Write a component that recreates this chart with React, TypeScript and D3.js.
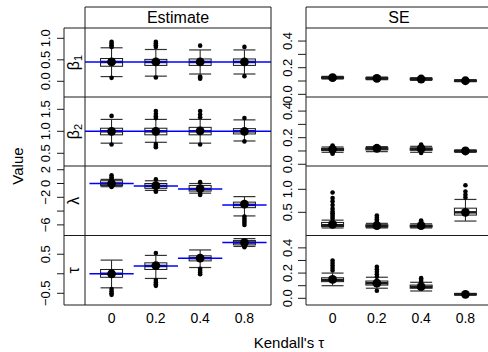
import React, { useEffect, useRef } from "react";
import * as d3 from "d3";

type Box = { lo: number; q1: number; med: number; q3: number; hi: number; mean: number; out: number[] };

const categories = ["0", "0.2", "0.4", "0.8"];
const columnTitles = ["Estimate", "SE"];
const rowNames = [["β", "1"], ["β", "2"], ["λ", ""], ["τ", ""]];

// true parameter values (blue lines)
const beta1True = 0.45;
const beta2True = 1;
const lambdaTrue = [0, -0.35, -0.8, -3.1];
const tauTrue = [0, 0.2, 0.4, 0.8];

const beta1Est: Box[] = [
  { lo: 0.11, q1: 0.35, med: 0.45, q3: 0.53, hi: 0.78, mean: 0.45, out: [0.08, 0.8, 0.84, 0.88, 0.92] },
  { lo: 0.12, q1: 0.37, med: 0.45, q3: 0.51, hi: 0.74, mean: 0.45, out: [0.09, 0.8, 0.84, 0.88, 0.92] },
  { lo: 0.17, q1: 0.37, med: 0.45, q3: 0.52, hi: 0.73, mean: 0.45, out: [0.06, 0.09, 0.11, 0.83] },
  { lo: 0.17, q1: 0.37, med: 0.45, q3: 0.52, hi: 0.73, mean: 0.45, out: [0.12, 0.8] },
];
const beta2Est: Box[] = [
  { lo: 0.73, q1: 0.92, med: 1.0, q3: 1.07, hi: 1.27, mean: 1.0, out: [0.7, 1.35] },
  { lo: 0.75, q1: 0.92, med: 1.0, q3: 1.07, hi: 1.27, mean: 1.0, out: [0.64, 0.67, 0.71, 1.3, 1.34, 1.4, 1.46] },
  { lo: 0.73, q1: 0.92, med: 1.0, q3: 1.09, hi: 1.27, mean: 1.01, out: [0.7, 1.32, 1.38, 1.46] },
  { lo: 0.78, q1: 0.94, med: 1.0, q3: 1.06, hi: 1.26, mean: 1.0, out: [0.77, 1.3] },
];
const lambdaEst: Box[] = [
  { lo: -0.46, q1: -0.3, med: 0.0, q3: 0.4, hi: 0.6, mean: 0.0, out: [0.7, 0.9, 1.2, -0.5] },
  { lo: -1.0, q1: -0.7, med: -0.35, q3: 0.0, hi: 0.4, mean: -0.32, out: [0.6, -1.1, -1.2] },
  { lo: -1.4, q1: -1.1, med: -0.8, q3: -0.3, hi: 0.0, mean: -0.75, out: [0.2, -1.5, -1.67] },
  { lo: -4.7, q1: -3.5, med: -3.1, q3: -2.7, hi: -1.9, mean: -3.0, out: [-4.8, -5.1, -5.4, -5.7, -6.0] },
];
const tauEst: Box[] = [
  { lo: -0.36, q1: -0.09, med: 0.0, q3: 0.11, hi: 0.35, mean: 0.0, out: [-0.39, -0.45, -0.5, -0.54] },
  { lo: -0.12, q1: 0.11, med: 0.2, q3: 0.28, hi: 0.47, mean: 0.21, out: [0.53, -0.16, -0.22, -0.27, -0.31] },
  { lo: 0.16, q1: 0.33, med: 0.4, q3: 0.46, hi: 0.61, mean: 0.4, out: [0.13, 0.08, 0.03, -0.01] },
  { lo: 0.7, q1: 0.74, med: 0.8, q3: 0.85, hi: 0.9, mean: 0.8, out: [0.68, 0.71] },
];

const beta1SE: Box[] = [
  { lo: 0.115, q1: 0.12, med: 0.125, q3: 0.13, hi: 0.135, mean: 0.125, out: [] },
  { lo: 0.11, q1: 0.115, med: 0.12, q3: 0.125, hi: 0.13, mean: 0.12, out: [] },
  { lo: 0.105, q1: 0.11, med: 0.115, q3: 0.12, hi: 0.125, mean: 0.115, out: [] },
  { lo: 0.095, q1: 0.098, med: 0.102, q3: 0.106, hi: 0.11, mean: 0.102, out: [] },
];
const beta2SE: Box[] = [
  { lo: 0.09, q1: 0.103, med: 0.112, q3: 0.12, hi: 0.13, mean: 0.113, out: [0.08, 0.086, 0.136, 0.14] },
  { lo: 0.095, q1: 0.108, med: 0.118, q3: 0.125, hi: 0.133, mean: 0.12, out: [0.137] },
  { lo: 0.09, q1: 0.105, med: 0.115, q3: 0.123, hi: 0.135, mean: 0.117, out: [0.085, 0.14, 0.148] },
  { lo: 0.09, q1: 0.095, med: 0.1, q3: 0.104, hi: 0.108, mean: 0.1, out: [] },
];
const lambdaSE: Box[] = [
  { lo: 0.16, q1: 0.19, med: 0.22, q3: 0.28, hi: 0.33, mean: 0.24, out: [0.36, 0.4, 0.44, 0.48, 0.52, 0.58, 0.66, 0.74, 0.81, 0.93] },
  { lo: 0.16, q1: 0.18, med: 0.2, q3: 0.23, hi: 0.26, mean: 0.21, out: [0.28, 0.31, 0.35, 0.39, 0.43] },
  { lo: 0.16, q1: 0.18, med: 0.2, q3: 0.22, hi: 0.25, mean: 0.21, out: [0.27, 0.3, 0.32] },
  { lo: 0.31, q1: 0.44, med: 0.5, q3: 0.59, hi: 0.78, mean: 0.5, out: [0.82, 0.88, 0.95, 1.09] },
];
const tauSE: Box[] = [
  { lo: 0.1, q1: 0.132, med: 0.145, q3: 0.163, hi: 0.2, mean: 0.15, out: [0.22, 0.24, 0.26, 0.28, 0.3] },
  { lo: 0.08, q1: 0.105, med: 0.12, q3: 0.137, hi: 0.167, mean: 0.12, out: [0.06, 0.17, 0.19, 0.21, 0.23, 0.25] },
  { lo: 0.058, q1: 0.08, med: 0.09, q3: 0.105, hi: 0.127, mean: 0.092, out: [0.13, 0.145, 0.16] },
  { lo: 0.025, q1: 0.029, med: 0.032, q3: 0.035, hi: 0.039, mean: 0.032, out: [] },
];

const estTicks = [[0, 0.5, 1], [0.5, 1, 1.5], [-6, -4, -2, 0, 2], [-0.5, 0, 0.5]];
const estTickLabels = [["0.0", "0.5", "1.0"], ["0.5", "1.0", "1.5"], ["−6", "", "−2", "0", "2"], ["−0.5", "", "0.5"]];
const seTicks = [[0, 0.1, 0.2, 0.3, 0.4], [0, 0.1, 0.2, 0.3, 0.4], [0.5, 1], [0, 0.1, 0.2, 0.3, 0.4]];
const seTickLabels = [["0.0", "", "0.2", "", "0.4"], ["0.0", "", "0.2", "", "0.4"], ["0.5", "1.0"], ["0.0", "", "0.2", "", "0.4"]];

const W = 488;
const H = 352;
const FONT = "'Liberation Sans', Arial, Helvetica, sans-serif";

export default function App() {
  const svgRef = useRef<SVGSVGElement>(null);

  useEffect(() => {
    if (!svgRef.current) return;
    const svg = d3.select(svgRef.current);
    svg.selectAll("*").remove();

    const rowEdges = [28, 97, 166, 235.5, 305];
    const estDomains = [[-0.365, 1.24], [0.211, 1.78], [-7.54, 2.54], [-0.8, 0.98]];
    const seDomains = [[-0.02, 0.498], [-0.013, 0.506], [-0.004, 1.507], [-0.053, 0.498]];
    const estData = [beta1Est, beta2Est, lambdaEst, tauEst];
    const seData = [beta1SE, beta2SE, lambdaSE, tauSE];

    const xEst = d3.scaleLinear().domain([0.4, 4.6]).range([85, 271]);
    const xSe = d3.scaleLinear().domain([0.4, 4.6]).range([306, 492]);
    const boxW = 22;

    const ink = "#1a1a1a";

    const drawBoxes = (
      g: d3.Selection<SVGGElement, unknown, null, undefined>,
      boxes: Box[],
      x: d3.ScaleLinear<number, number>,
      y: d3.ScaleLinear<number, number>,
      truth: ((i: number) => void) | null
    ) => {
      boxes.forEach((b, i) => {
        const cx = x(i + 1);
        const l = cx - boxW / 2;
        const r = cx + boxW / 2;
        g.append("line").attr("x1", cx).attr("x2", cx).attr("y1", y(b.lo)).attr("y2", y(b.hi))
          .attr("stroke", ink).attr("stroke-width", 1);
        [b.lo, b.hi].forEach((v) => {
          g.append("line").attr("x1", l).attr("x2", r).attr("y1", y(v)).attr("y2", y(v))
            .attr("stroke", "#333").attr("stroke-width", 1.2);
        });
        g.append("rect").attr("x", l).attr("width", boxW)
          .attr("y", y(b.q3)).attr("height", Math.max(0.5, y(b.q1) - y(b.q3)))
          .attr("fill", "white").attr("stroke", ink).attr("stroke-width", 1);
        g.append("line").attr("x1", l).attr("x2", r).attr("y1", y(b.med)).attr("y2", y(b.med))
          .attr("stroke", ink).attr("stroke-width", 2.5);
      });
      if (truth) boxes.forEach((_, i) => truth(i));
      boxes.forEach((b, i) => {
        const cx = x(i + 1);
        g.selectAll(null).data(b.out).join("circle")
          .attr("cx", cx).attr("cy", (d) => y(d)).attr("r", 2.3).attr("fill", "black");
        g.append("circle").attr("cx", cx).attr("cy", y(b.mean)).attr("r", 4.4).attr("fill", "black");
      });
    };

    const rotText = (x: number, y: number, txt: string, size: number) =>
      svg.append("text").attr("transform", `translate(${x},${y}) rotate(-90)`)
        .attr("text-anchor", "middle").attr("font-family", FONT).attr("font-size", size)
        .attr("fill", "black").text(txt);

    for (let r = 0; r < 4; r++) {
      const top = rowEdges[r];
      const bot = rowEdges[r + 1];
      const mid = (top + bot) / 2;

      // estimate column
      const yE = d3.scaleLinear().domain(estDomains[r]).range([bot, top]);
      const gE = svg.append("g");
      const truthLine = (i: number) => {
        if (r === 0 || r === 1) {
          if (i > 0) return;
          const v = r === 0 ? beta1True : beta2True;
          gE.append("line").attr("x1", 85).attr("x2", 271).attr("y1", yE(v)).attr("y2", yE(v))
            .attr("stroke", "#0000ff").attr("stroke-width", 1.5);
        } else {
          const v = r === 2 ? lambdaTrue[i] : tauTrue[i];
          gE.append("line").attr("x1", xEst(i + 0.5)).attr("x2", xEst(i + 1.5))
            .attr("y1", yE(v)).attr("y2", yE(v))
            .attr("stroke", "#0000ff").attr("stroke-width", 1.5);
        }
      };
      drawBoxes(gE, estData[r], xEst, yE, truthLine);

      estTicks[r].forEach((t, k) => {
        svg.append("line").attr("x1", 57).attr("x2", 64).attr("y1", yE(t)).attr("y2", yE(t))
          .attr("stroke", ink);
        const lab = estTickLabels[r][k];
        if (lab) rotText(50, yE(t), lab, 13);
      });

      // row strip label
      const [sym, sub] = rowNames[r];
      const st = svg.append("text").attr("transform", `translate(79,${mid}) rotate(-90)`)
        .attr("text-anchor", "middle").attr("font-family", FONT).attr("font-size", 16);
      st.append("tspan").text(sym);
      if (sub) st.append("tspan").attr("dy", 3).attr("font-size", 11).text(sub);

      // SE column
      const yS = d3.scaleLinear().domain(seDomains[r]).range([bot, top]);
      const gS = svg.append("g");
      drawBoxes(gS, seData[r], xSe, yS, null);
      seTicks[r].forEach((t, k) => {
        svg.append("line").attr("x1", 298).attr("x2", 306).attr("y1", yS(t)).attr("y2", yS(t))
          .attr("stroke", ink);
        const lab = seTickLabels[r][k];
        if (lab) rotText(292, yS(t), lab, 13);
      });

      // row separators
      if (r > 0) {
        svg.append("line").attr("x1", 64).attr("x2", 271).attr("y1", top).attr("y2", top).attr("stroke", ink);
        svg.append("line").attr("x1", 306).attr("x2", W).attr("y1", top).attr("y2", top).attr("stroke", ink);
      }
    }

    // frames
    const frame = (d: string) => svg.append("path").attr("d", d).attr("fill", "none").attr("stroke", ink).attr("stroke-width", 1);
    frame("M64,28 L64,305 L271,305 L271,7 L85,7 L85,305 M64,28 L271,28");
    frame(`M${W},7 L306,7 L306,305 L${W},305 M306,28 L${W},28`);

    // column titles
    svg.append("text").attr("x", 178).attr("y", 23).attr("text-anchor", "middle")
      .attr("font-family", FONT).attr("font-size", 16).text(columnTitles[0]);
    svg.append("text").attr("x", 399).attr("y", 23).attr("text-anchor", "middle")
      .attr("font-family", FONT).attr("font-size", 16).text(columnTitles[1]);

    // x labels
    categories.forEach((c, i) => {
      [xEst, xSe].forEach((x) => {
        svg.append("text").attr("x", x(i + 1)).attr("y", 323).attr("text-anchor", "middle")
          .attr("font-family", FONT).attr("font-size", 14).text(c);
      });
    });

    svg.append("text").attr("x", 289).attr("y", 348).attr("text-anchor", "middle")
      .attr("font-family", FONT).attr("font-size", 15).text("Kendall's τ");
    rotText(23, 166, "Value", 15);
  }, []);

  return (
    <svg ref={svgRef} width={W} height={H}
      style={{ position: "absolute", left: 0, top: 0, background: "white" }} />
  );
}
